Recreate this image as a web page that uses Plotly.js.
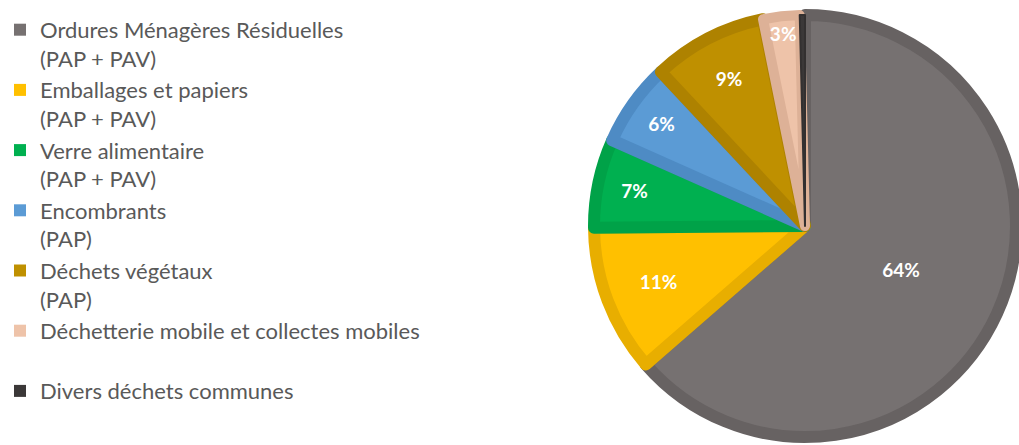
<!DOCTYPE html>
<html>
<head>
<meta charset="utf-8">
<script src="https://cdn.plot.ly/plotly-3.0.1.min.js"></script>
<style>html,body{margin:0;padding:0;background:#fff;}#chart{width:1019px;height:445px;}</style>
</head>
<body>
<div id="chart"></div>
<script>
// Data
const categories = [
  "Ordures Ménagères Résiduelles<br>(PAP + PAV)",
  "Emballages et papiers<br>(PAP + PAV)",
  "Verre alimentaire<br>(PAP + PAV)",
  "Encombrants<br>(PAP)",
  "Déchets végétaux<br>(PAP)",
  "Déchetterie mobile et collectes mobiles<br>\u00A0",
  "Divers déchets communes"
];
const values = [63.8, 11.3, 6.8, 6.4, 8.8, 2.8, 0.4];
const showLabel = [true, true, true, true, true, true, false];

// Styles
const fillColors = ["#767171", "#FFC000", "#00B050", "#5B9BD5", "#BF9000", "#EEC3A9", "#3B3838"];
const edgeColors = ["#676262", "#E8AE00", "#00A248", "#4E8BC4", "#AE8200", "#DDB197", "#333030"];
const edgeWidths = [12, 12, 12, 12, 12, 10, 2];

const W = 1019, H = 445;
const cx = 805, cy = 226, R = 211;
const domX = [(cx - R) / W, (cx + R) / W];
const domY = [(H - cy - R) / H, (H - cy + R) / H];

const base = {
  type: "pie",
  labels: categories,
  values: values,
  sort: false,
  direction: "clockwise",
  rotation: 0,
  domain: {x: domX, y: domY},
  hoverinfo: "label+percent"
};

// Legend source (flat colours, no edge)
const t1 = Object.assign({}, base, {
  marker: {colors: fillColors, line: {width: 0}},
  textinfo: "none"
});
// Drawn pie with darker edge bands and labels
const t2 = Object.assign({}, base, {
  marker: {colors: fillColors, line: {color: edgeColors, width: edgeWidths}},
  texttemplate: showLabel.map(s => s ? "%{percent:.0%}" : ""),
  textposition: "inside",
  insidetextorientation: "horizontal",
  textfont: {family: "Lato, 'Open Sans', sans-serif", size: 19, color: "#FFFFFF", weight: "bold"}
});

const layout = {
  width: W, height: H,
  margin: {l: 0, r: 0, t: 0, b: 0},
  paper_bgcolor: "#FFFFFF",
  showlegend: true,
  uniformtext: {mode: "show", minsize: 19},
  legend: {
    x: 0, y: 0.98, xanchor: "left", yanchor: "top", valign: "top",
    font: {family: "Lato, 'Open Sans', sans-serif", size: 22, color: "#595959"},
    bgcolor: "rgba(0,0,0,0)", traceorder: "normal"
  }
};

Plotly.newPlot("chart", [t1, t2], layout, {displayModeBar: false, staticPlot: true});
</script>
</body>
</html>
